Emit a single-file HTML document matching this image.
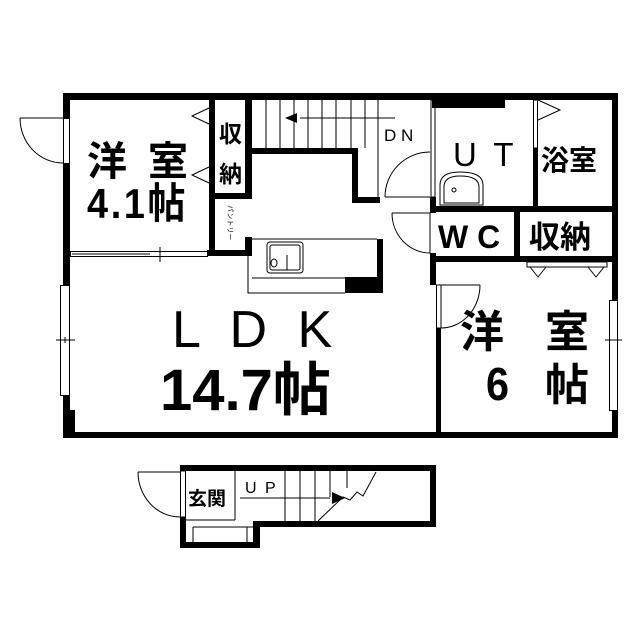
<!DOCTYPE html>
<html><head><meta charset="utf-8"><style>
html,body{margin:0;padding:0;background:#fff;}
svg{display:block}
text{font-family:"Liberation Sans","Noto Sans CJK JP",sans-serif;fill:#000}
</style></head><body>
<svg width="639" height="640" viewBox="0 0 639 640" xmlns="http://www.w3.org/2000/svg">
<g fill="#000">
<rect x="63" y="93" width="555" height="7"/>
<rect x="63" y="93" width="7" height="25"/>
<rect x="63" y="163" width="7" height="122"/>
<rect x="63" y="395" width="7" height="43"/>
<rect x="63" y="410" width="12" height="28"/>
<rect x="63" y="432" width="555" height="6"/>
<rect x="612" y="93" width="6" height="207"/>
<rect x="612" y="410" width="6" height="28"/>
<rect x="209" y="93" width="6" height="163"/>
<rect x="207" y="250" width="45" height="6"/>
<rect x="245" y="93" width="7" height="106"/>
<rect x="209" y="193" width="43" height="6"/>
<rect x="245" y="237" width="7" height="19"/>
<rect x="252" y="148" width="106" height="6"/>
<rect x="352" y="148" width="6" height="55"/>
<rect x="352" y="197" width="28" height="6"/>
<rect x="430" y="93" width="6" height="6"/>
<rect x="432" y="100" width="73" height="8"/>
<rect x="430" y="253" width="6" height="32"/>
<rect x="436" y="328" width="5" height="110"/>
<rect x="430" y="197" width="6" height="16"/>
<rect x="533" y="148" width="5" height="62"/>
<rect x="432" y="206" width="186" height="6"/>
<rect x="432" y="256" width="186" height="6"/>
<rect x="514" y="206" width="6" height="56"/>
<rect x="377" y="239" width="6" height="54"/>
<rect x="345" y="277" width="38" height="16"/>
<rect x="180" y="465" width="256" height="6"/>
<rect x="180" y="465" width="6" height="6"/>
<rect x="180" y="517" width="6" height="31"/>
<rect x="180" y="542" width="80" height="6"/>
<rect x="430" y="465" width="6" height="62"/>
<rect x="253" y="521" width="183" height="6"/>
<rect x="253" y="521" width="7" height="27"/>
</g>
<g fill="none" stroke="#000" stroke-width="1">
<rect x="63.5" y="118.5" width="6" height="45"/>
<path d="M20 118 H63 M20 118 A43 45 0 0 0 63 163"/>
<rect x="209.5" y="108" width="5" height="76"/>
<path d="M209 108 L192 116 L209 124 M209 167 L192 175 L209 183"/>
<rect x="431" y="100" width="4" height="97"/>
<path d="M385 197 H430 M385 197 A45 45 0 0 1 430 152"/>
<path d="M392 213 H430 V253 M392 213 A38 40 0 0 0 430 253"/>
<rect x="533.5" y="100" width="4" height="48"/>
<path d="M538 100 L560 110 L538 120"/>
<rect x="436.5" y="285" width="4.5" height="43"/>
<path d="M441 285 H480 M480 285 A39 43 0 0 1 441 328"/>
<rect x="527" y="262" width="80" height="5"/>
<path d="M530 267 L538 277 L546 267 M588 267 L596 277 L604 267"/>
<rect x="60.5" y="285.5" width="9" height="110"/>
<path d="M56 340 H75 M65 337 V343"/>
<rect x="609.5" y="300.5" width="8" height="110"/>
<path d="M605 340 H622"/>
<rect x="70.5" y="251.5" width="137" height="5"/>
<path d="M160 247 V262 M72 254 H150"/>
<path d="M266 100 V148 M280 100 V148 M294 100 V148 M308 100 V148 M322 100 V148 M336 100 V148 M351 100 V148 M365 100 V148 M378 100 V197"/>
<path d="M300 118 H395"/>
<path d="M252 239 H377 M248 256 V293 H345 M252 278 H345"/>
<rect x="267" y="242" width="36" height="31" rx="3"/>
<rect x="270" y="245" width="30" height="25" rx="2"/>
<ellipse cx="274" cy="263" rx="3" ry="4"/>
<path d="M287 255 V270"/>
<path d="M440 205 V185 Q440 172 460 172 Q483 172 483 185 V205 Z"/>
<path d="M444 203 V187 Q444 176 460 176 Q479 176 479 187 V203 Z"/>
<circle cx="454" cy="190" r="2"/>
<path d="M180 472 H138 M138 472 A42 45 0 0 0 180 517"/>
<rect x="180.5" y="471" width="5" height="46"/>
<path d="M186 520 H235 M235 471 V520 M193 527 V542 M193 527 H253 M247 527 V542"/>
<path d="M285 471 V521 M300 471 V521 M315 471 V521 M330 471 V497 M347 471 V488"/>
<path d="M318 521 L343 497 L350 500 L357 492 L363 496 L376 472"/>
<path d="M240 498 H330"/>
</g>
<polygon points="285,118 297,113 297,123" fill="#000"/>
<polygon points="345,498 332,492 332,504" fill="#000"/>
<g font-weight="bold">
<text x="87" y="175" font-size="40">洋</text>
<text x="148" y="175" font-size="40">室</text>
<text x="87" y="218" font-size="42" letter-spacing="3" transform="translate(87 0) scale(0.9 1) translate(-87 0)">4.1帖</text>
<text x="219" y="142" font-size="23">収</text>
<text x="219" y="182" font-size="23">納</text>
<text x="453" y="166" font-size="33" letter-spacing="4" font-weight="normal">U T</text>
<text x="541" y="170" font-size="28">浴室</text>
<text x="438" y="248" font-size="32">W C</text>
<text x="529" y="248" font-size="31">収納</text>
<text x="160" y="410" font-size="58">14.7帖</text>
<text x="460" y="347" font-size="44">洋</text>
<text x="545" y="347" font-size="44">室</text>
<text x="486" y="400" font-size="46" transform="translate(486 0) scale(0.9 1) translate(-486 0)">6</text>
<text x="545" y="400" font-size="44">帖</text>
<text x="188" y="505" font-size="19">玄関</text>
</g>
<text x="172" y="347" font-size="52" letter-spacing="8">L D K</text>
<text x="384" y="141" font-size="17">D N</text>
<text x="245" y="493" font-size="16" letter-spacing="2">U P</text>
<text x="228" y="205" font-size="7" transform="rotate(90 228 205)">パントリー</text>
</svg>
</body></html>
